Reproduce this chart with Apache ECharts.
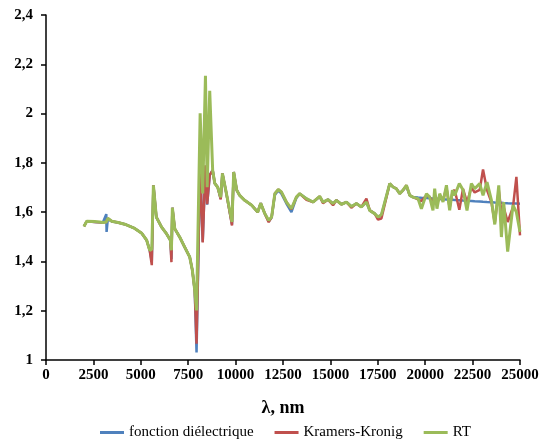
<!DOCTYPE html>
<html>
<head>
<meta charset="utf-8">
<script src="https://cdn.jsdelivr.net/npm/echarts@6/dist/echarts.min.js"></script>
<style>
	html, body { margin: 0; padding: 0; background: #fff; }
	#refractiveChart { width: 540px; height: 446px; }
</style>
</head>
<body>
<div id="refractiveChart"></div>
<script>
	// longueurs d'onde (nm), communes aux trois courbes
	var wavelengths = [
		2000, 2150, 2570, 2830, 3000, 3180, 3195, 3260, 3470, 3800,
		4150, 4200, 4680, 5050, 5310, 5470, 5580, 5665, 5820, 6090,
		6350, 6560, 6615, 6665, 6790, 7050, 7315, 7580, 7720, 7845,
		7940, 8130, 8265, 8410, 8500, 8635, 8790, 8900, 9055, 9215,
		9305, 9515, 9810, 9900, 10060, 10215, 10480, 10850, 11165, 11325,
		11535, 11745, 11900, 12070, 12250, 12415, 12680, 12945, 13205, 13380,
		13735, 14085, 14435, 14610, 14875, 15140, 15315, 15580, 15845, 16105,
		16370, 16635, 16900, 17075, 17335, 17510, 17690, 18130, 18305, 18480,
		18655, 18830, 19010, 19185, 19355, 19620, 19800, 20065, 20235, 20410,
		20500, 20620, 20765, 20940, 21120, 21290, 21435, 21555, 21800, 21995,
		22205, 22435, 22610, 22875, 23050, 23260, 23495, 23670, 23880, 24020,
		24140, 24350, 24630, 24810, 25000
	];

	var nDielectric = [
		1.542, 1.563, 1.560, 1.559, 1.558, 1.592, 1.520, 1.572, 1.562, 1.558,
		1.551, 1.556, 1.534, 1.514, 1.486, 1.445, 1.400, 1.709, 1.580, 1.540,
		1.513, 1.486, 1.410, 1.618, 1.533, 1.499, 1.458, 1.418, 1.364, 1.283,
		1.031, 1.795, 1.480, 1.788, 1.630, 1.750, 1.770, 1.717, 1.701, 1.655,
		1.757, 1.676, 1.550, 1.763, 1.689, 1.668, 1.648, 1.628, 1.600, 1.636,
		1.595, 1.562, 1.578, 1.670, 1.688, 1.675, 1.635, 1.600, 1.658, 1.675,
		1.655, 1.641, 1.662, 1.641, 1.651, 1.635, 1.648, 1.632, 1.641, 1.623,
		1.635, 1.621, 1.641, 1.607, 1.594, 1.580, 1.588, 1.716, 1.702, 1.695,
		1.675, 1.689, 1.705, 1.668, 1.661, 1.659, 1.658, 1.657, 1.656, 1.655,
		1.654, 1.654, 1.653, 1.652, 1.651, 1.651, 1.650, 1.649, 1.648, 1.647,
		1.646, 1.645, 1.644, 1.643, 1.642, 1.641, 1.640, 1.639, 1.638, 1.638,
		1.637, 1.636, 1.635, 1.635, 1.634
	];

	var nKramersKronig = [
		1.542, 1.563, 1.560, 1.559, 1.558, 1.560, 1.556, 1.574, 1.563, 1.558,
		1.551, 1.552, 1.534, 1.514, 1.486, 1.445, 1.385, 1.709, 1.580, 1.540,
		1.513, 1.486, 1.397, 1.618, 1.533, 1.499, 1.458, 1.418, 1.364, 1.283,
		1.066, 1.798, 1.477, 1.790, 1.632, 1.750, 1.770, 1.717, 1.701, 1.652,
		1.757, 1.676, 1.546, 1.763, 1.689, 1.668, 1.648, 1.628, 1.600, 1.636,
		1.595, 1.559, 1.580, 1.675, 1.692, 1.682, 1.641, 1.612, 1.661, 1.675,
		1.650, 1.641, 1.664, 1.636, 1.651, 1.628, 1.648, 1.632, 1.641, 1.618,
		1.635, 1.621, 1.655, 1.607, 1.594, 1.570, 1.574, 1.716, 1.702, 1.695,
		1.675, 1.689, 1.709, 1.668, 1.661, 1.652, 1.645, 1.668, 1.662, 1.640,
		1.660, 1.630, 1.668, 1.648, 1.700, 1.618, 1.680, 1.690, 1.610, 1.695,
		1.640, 1.700, 1.680, 1.690, 1.773, 1.690, 1.640, 1.555, 1.690, 1.600,
		1.620, 1.560, 1.620, 1.743, 1.506
	];

	var nRT = [
		1.542, 1.563, 1.562, 1.560, 1.558, 1.560, 1.556, 1.575, 1.563, 1.558,
		1.551, 1.552, 1.534, 1.514, 1.486, 1.445, 1.450, 1.709, 1.580, 1.540,
		1.513, 1.486, 1.445, 1.618, 1.533, 1.499, 1.458, 1.418, 1.364, 1.283,
		1.201, 2.001, 1.676, 2.153, 1.701, 2.092, 1.770, 1.717, 1.701, 1.660,
		1.757, 1.676, 1.560, 1.763, 1.689, 1.668, 1.648, 1.628, 1.600, 1.636,
		1.595, 1.567, 1.580, 1.675, 1.692, 1.682, 1.641, 1.614, 1.661, 1.675,
		1.655, 1.641, 1.664, 1.641, 1.651, 1.635, 1.648, 1.632, 1.641, 1.623,
		1.635, 1.621, 1.641, 1.607, 1.594, 1.580, 1.590, 1.716, 1.702, 1.695,
		1.675, 1.689, 1.709, 1.668, 1.661, 1.655, 1.614, 1.675, 1.661, 1.607,
		1.695, 1.614, 1.675, 1.641, 1.709, 1.607, 1.689, 1.668, 1.716, 1.690,
		1.607, 1.716, 1.695, 1.716, 1.668, 1.722, 1.648, 1.550, 1.709, 1.499,
		1.641, 1.440, 1.628, 1.600, 1.520
	];

	var seriesNames = ['fonction diélectrique', 'Kramers-Kronig', 'RT'];
	var seriesColors = ['#4F81BD', '#C0504D', '#9BBB59'];

	function pairs(values) {
		var out = [];
		wavelengths.forEach(function (w, i) {
			out.push([w, values[i]]);
		});
		return out;
	}

	var fontFamily = '"Liberation Serif", "DejaVu Serif", serif';

	var chart = echarts.init(document.getElementById('refractiveChart'), null, { renderer: 'canvas' });

	var options = {
		animation: false,
		backgroundColor: '#ffffff',
		color: seriesColors,
		grid: {
			left: 46,
			right: 20,
			top: 15,
			bottom: 86,
			containLabel: false,
			outerBoundsMode: 'none'
		},
		legend: {
			bottom: 1,
			left: 95,
			icon: 'rect',
			itemWidth: 24,
			itemHeight: 3,
			itemGap: 21,
			textStyle: {
				fontFamily: fontFamily,
				fontSize: 15,
				color: '#000'
			},
			data: seriesNames
		},
		xAxis: {
			type: 'value',
			min: 0,
			max: 25000,
			interval: 2500,
			name: 'λ, nm',
			nameLocation: 'middle',
			nameGap: 39,
			nameTextStyle: {
				fontFamily: fontFamily,
				fontSize: 18,
				fontWeight: 'bold',
				color: '#000'
			},
			axisLine: { lineStyle: { color: '#000', width: 1.5 } },
			axisTick: { show: true, length: 5, lineStyle: { color: '#000', width: 1.5 } },
			axisLabel: {
				fontFamily: fontFamily,
				fontSize: 15,
				fontWeight: 'bold',
				color: '#000',
				margin: 8,
				formatter: function (v) {
					return String(v);
				}
			},
			splitLine: { show: false }
		},
		yAxis: {
			type: 'value',
			min: 1,
			max: 2.4,
			interval: 0.2,
			axisLine: { show: true, lineStyle: { color: '#000', width: 1.5 } },
			axisTick: { show: true, length: 5, lineStyle: { color: '#000', width: 1.5 } },
			axisLabel: {
				fontFamily: fontFamily,
				fontSize: 15,
				fontWeight: 'bold',
				color: '#000',
				margin: 13,
				formatter: function (v) {
					return String(Math.round(v * 10) / 10).replace('.', ',');
				}
			},
			splitLine: { show: false }
		},
		series: [
			{
				name: seriesNames[0],
				type: 'line',
				symbol: 'none',
				data: pairs(nDielectric),
				lineStyle: { width: 2.5 }
			},
			{
				name: seriesNames[1],
				type: 'line',
				symbol: 'none',
				data: pairs(nKramersKronig),
				lineStyle: { width: 2.5 }
			},
			{
				name: seriesNames[2],
				type: 'line',
				symbol: 'none',
				data: pairs(nRT),
				lineStyle: { width: 3 }
			}
		]
	};

	chart.setOption(options);
</script>
</body>
</html>
